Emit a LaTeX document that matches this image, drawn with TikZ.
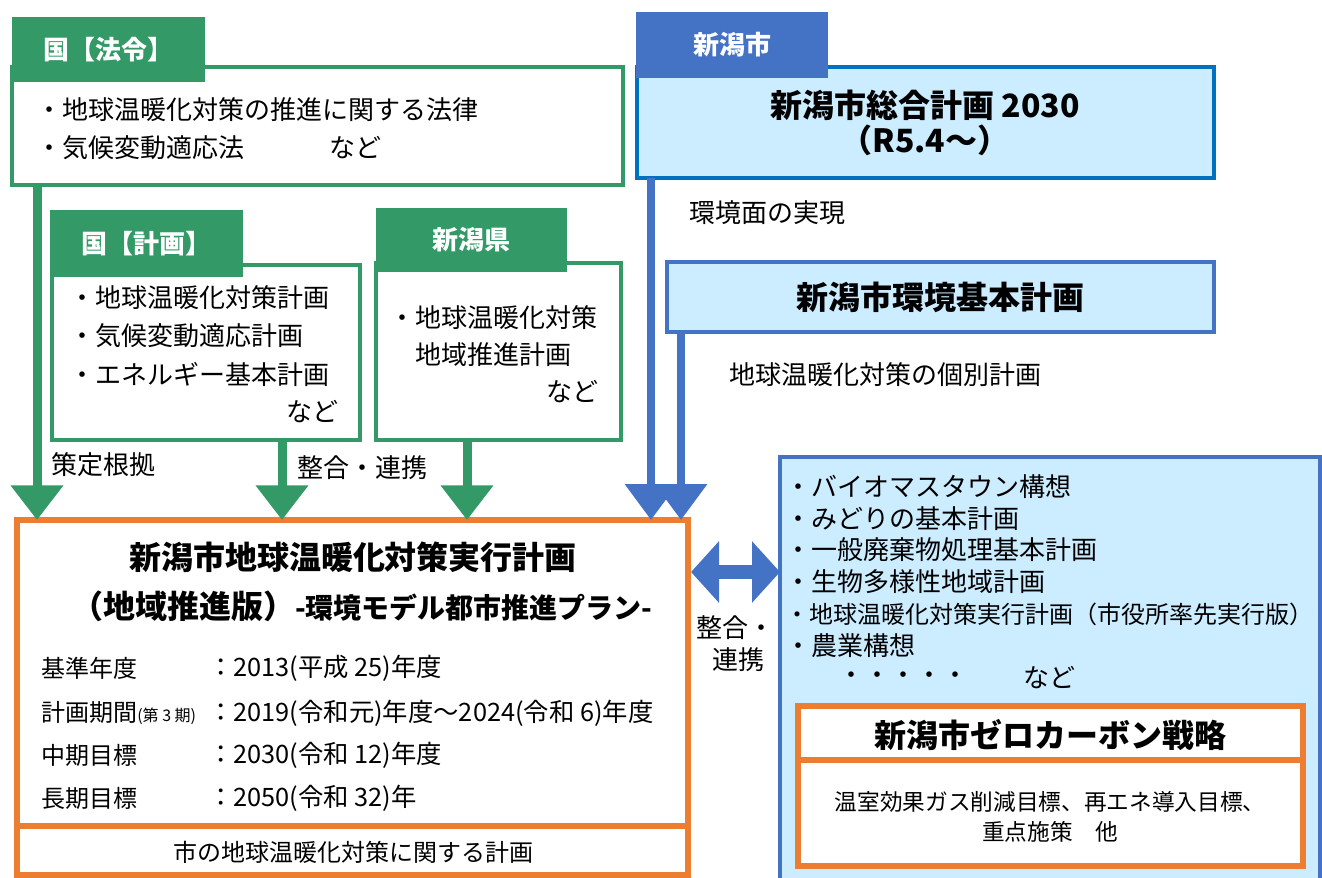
\documentclass[tikz,border=0pt]{standalone}
\usepackage{fontspec}
\setmainfont{Noto Sans CJK JP}
\usetikzlibrary{arrows.meta,calc}
\definecolor{kgreen}{RGB}{51,153,102}
\definecolor{kblue}{RGB}{68,114,196}
\definecolor{kdblue}{RGB}{0,112,192}
\definecolor{korange}{RGB}{237,125,49}
\definecolor{kfill}{RGB}{204,236,255}

\begin{document}
\begin{tikzpicture}[x=0.75pt,y=0.75pt,yscale=-1,xscale=1,
    gbox/.style={draw=kgreen,line width=2.4pt,fill=white,anchor=north west,inner sep=0pt,outer sep=0pt},
    bbox/.style={gbox,draw=kblue,fill=kfill},
    obox/.style={gbox,draw=korange,line width=5pt},
    gtab/.style={fill=kgreen,text=white,anchor=north west,inner sep=0pt,outer sep=0pt,font=\fontsize{19.5}{23}\selectfont\bfseries},
    btab/.style={gtab,fill=kblue},
    txt/.style={anchor=west,inner sep=0.75pt,font=\fontsize{19.5}{23}\selectfont},
    row/.style={txt,font=\fontsize{18}{21}\selectfont},
    val/.style={txt,font=\fontsize{19}{22}\selectfont},
    sml/.style={inner sep=0.75pt,font=\fontsize{17}{20}\selectfont},
    ttl/.style={inner sep=0.75pt,font=\fontsize{24}{28}\selectfont\bfseries},
    garrow/.style={kgreen,line width=6.75pt,-{Triangle[width=38pt,length=26pt]}},
    barrow/.style={kblue,line width=6pt,-{Triangle[width=38pt,length=27pt]}},
    bdarrow/.style={kblue,line width=10.5pt,{Triangle[width=45pt,length=21pt]}-{Triangle[width=45pt,length=21pt]}}
  ]
  \useasboundingbox (0,0) rectangle (1322,878);

  %Shape: 国【法令】
  \node[gbox,minimum width=611*0.75pt,minimum height=118*0.75pt] (lawbox) at (12,67) {};
  \node[gtab,minimum width=193*0.75pt,minimum height=65*0.75pt] (lawtab) at (12,17) {国【法令】};
  % Text Node
  \node[txt] (law1) at (35,110) {・地球温暖化対策の推進に関する法律};
  \node[txt] (law2) at (35,148) {・気候変動適応法};
  \node[txt] (law3) at (328,148) {など};

  %Shape: 国【計画】
  \node[gbox,minimum width=308*0.75pt,minimum height=175*0.75pt] (planbox) at (52,265) {};
  \node[gtab,minimum width=193*0.75pt,minimum height=67*0.75pt] (plantab) at (50,210) {国【計画】};
  % Text Node
  \node[txt] (plan1) at (68,298) {・地球温暖化対策計画};
  \node[txt] (plan2) at (68,336) {・気候変動適応計画};
  \node[txt] (plan3) at (68,374) {・エネルギー基本計画};
  \node[txt,anchor=east] (plan4) at (340,412) {など};

  %Shape: 新潟県
  \node[gbox,minimum width=245*0.75pt,minimum height=177*0.75pt] (prefbox) at (376,263) {};
  \node[gtab,minimum width=191*0.75pt,minimum height=64*0.75pt] (preftab) at (376,208) {新潟県};
  % Text Node
  \node[txt] (pref1) at (388,318) {・地球温暖化対策};
  \node[txt] (pref2) at (414,355) {地域推進計画};
  \node[txt,anchor=east] (pref3) at (600,392) {など};

  % Text Node
  \node[txt] (basis) at (50,465) {策定根拠};
  \node[txt] (align1) at (296,468) {整合・連携};

  %Shape: 新潟市総合計画
  \node[bbox,draw=kdblue,line width=3pt,minimum width=577*0.75pt,minimum height=111*0.75pt] (citybox) at (637,67) {};
  \node[btab,minimum width=192*0.75pt,minimum height=66*0.75pt] (citytab) at (636,12) {新潟市};
  % Text Node
  \node[ttl] (city1) at (925,105) {新潟市総合計画 2030};
  \node[ttl] (city2) at (925,140) {（R5.4～）};
  \node[txt] (envreal) at (688,213) {環境面の実現};

  %Shape: 新潟市環境基本計画
  \node[bbox,minimum width=547*0.75pt,minimum height=70*0.75pt] (envbox) at (667,262) {};
  % Text Node
  \node[ttl] (env1) at (940,297) {新潟市環境基本計画};
  \node[txt] (indiv) at (728,375) {地球温暖化対策の個別計画};

  %Shape: individual plans
  \node[bbox,minimum width=540*0.75pt,minimum height=440*0.75pt] (listbox) at (780,457) {};
  % Text Node
  \node[txt] (list1) at (784,487) {・バイオマスタウン構想};
  \node[txt] (list2) at (784,519) {・みどりの基本計画};
  \node[txt] (list3) at (784,550) {・一般廃棄物処理基本計画};
  \node[txt] (list4) at (784,582) {・生物多様性地域計画};
  \node[txt,font=\fontsize{18}{21}\selectfont] (list5) at (784,614) {・地球温暖化対策実行計画（市役所率先実行版）};
  \node[txt] (list6) at (784,646) {・農業構想};
  \node[txt] (list7) at (837,678) {・・・・・};
  \node[txt] (list8) at (1022,678) {など};

  %Shape: 新潟市ゼロカーボン戦略
  \node[obox,line width=4.5pt,minimum width=505*0.75pt,minimum height=160*0.75pt] (zerobox) at (798,706) {};
  \draw[korange,line width=4.5pt] ($(zerobox.north west)+(0,54)$) -- ($(zerobox.north east)+(0,54)$);
  % Text Node
  \node[ttl] (zero1) at (1050,735) {新潟市ゼロカーボン戦略};
  \node[sml] (zero2) at (1050,802) {温室効果ガス削減目標、再エネ導入目標、};
  \node[sml] (zero3) at (1050,832) {重点施策　他};

  %Shape: 新潟市地球温暖化対策実行計画
  \node[obox,minimum width=671*0.75pt,minimum height=355*0.75pt] (mainbox) at (17,520) {};
  \draw[korange,line width=5pt] ($(mainbox.south west)+(0,-49)$) -- ($(mainbox.south east)+(0,-49)$);
  % Text Node
  \node[ttl] (main1) at (353,557) {新潟市地球温暖化対策実行計画};
  \node[ttl] (main2) at (362,606) {（地域推進版）{\fontsize{21}{25}\selectfont -環境モデル都市推進プラン-}};
  \node[row] (base1) at (40,668) {基準年度};
  \node[val] (base2) at (207,668) {：2013(平成 25)年度};
  \node[row] (term1) at (40,713) {計画期間{\fontsize{12}{14}\selectfont (第 3 期)}};
  \node[val] (term2) at (207,713) {：2019(令和元)年度～2024(令和 6)年度};
  \node[row] (mid1) at (40,755) {中期目標};
  \node[val] (mid2) at (207,755) {：2030(令和 12)年度};
  \node[row] (long1) at (40,798) {長期目標};
  \node[val] (long2) at (207,798) {：2050(令和 32)年};
  \node[row,anchor=center] (main3) at (353,852) {市の地球温暖化対策に関する計画};

  %Straight Lines: green arrows
  \coordinate (lawout) at ($(lawbox.south west)+(25,0)$);
  \coordinate (planout) at ($(planbox.south west)+(230,0)$);
  \coordinate (prefout) at ($(prefbox.south west)+(91,0)$);
  \draw[garrow] (lawout) -- (lawout |- mainbox.north);
  \draw[garrow] (planout) -- (planout |- mainbox.north);
  \draw[garrow] (prefout) -- (prefout |- mainbox.north);

  %Straight Lines: blue arrows
  \coordinate (cityout) at ($(citybox.south west)+(14,0)$);
  \coordinate (envout) at ($(envbox.south west)+(14,0)$);
  \draw[barrow] (cityout) -- (cityout |- mainbox.north);
  \draw[barrow] (envout) -- (envout |- mainbox.north);

  %Straight Lines: link
  \coordinate (linkL) at ($(mainbox.north east)+(3,52)$);
  \draw[bdarrow] (linkL) -- (linkL -| listbox.west);
  % Text Node
  \node[txt,anchor=center] (link1) at (735,628) {整合・};
  \node[txt,anchor=center] (link2) at (738,660) {連携};
\end{tikzpicture}
\end{document}
